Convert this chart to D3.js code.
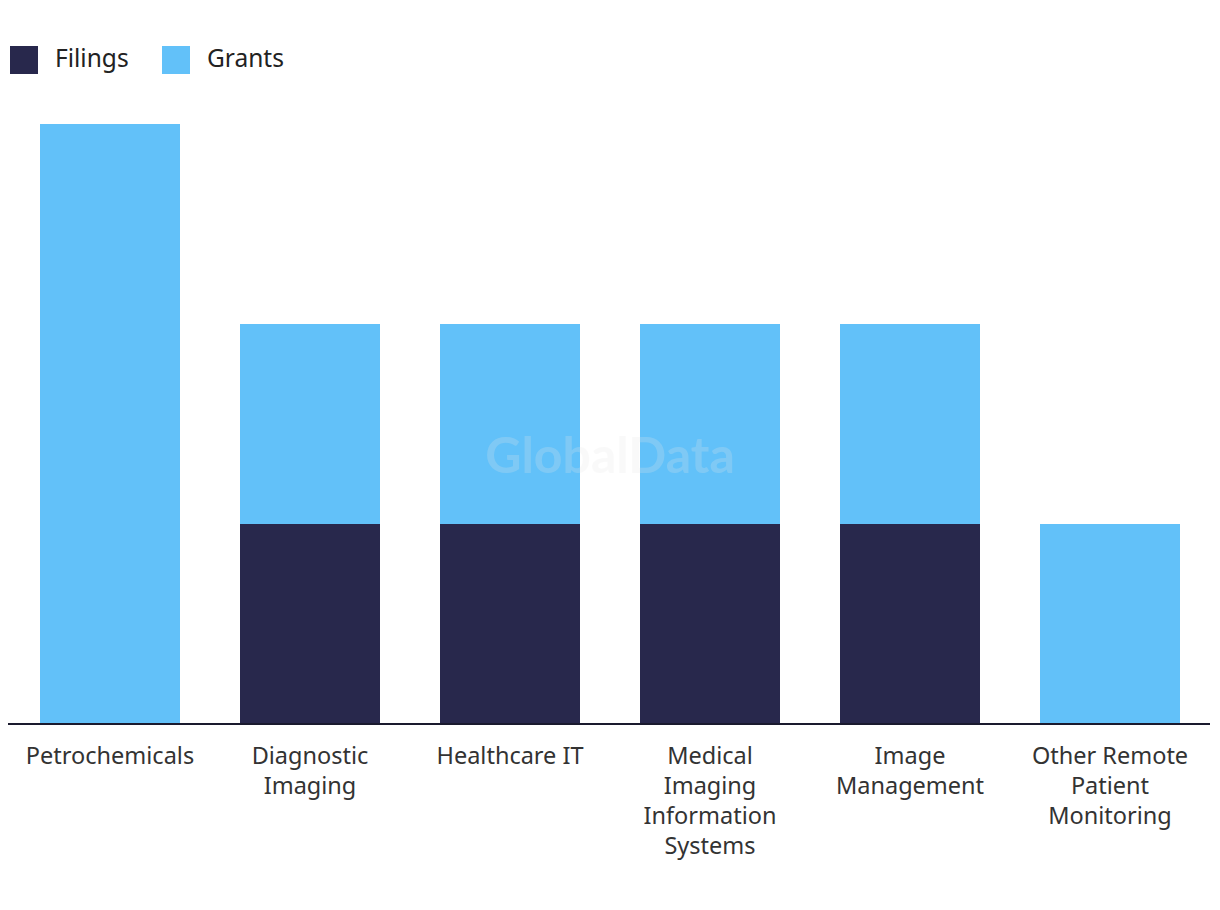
<!DOCTYPE html>
<html><head><meta charset="utf-8">
<script src="https://cdn.jsdelivr.net/npm/d3@7"></script>
<style>body{margin:0;background:#fff;font-family:"Noto Sans",sans-serif;}</style>
</head><body>
<svg id="c" width="1220" height="910"></svg>
<script>
const categories = [["Petrochemicals"],["Diagnostic","Imaging"],["Healthcare IT"],["Medical","Imaging","Information","Systems"],["Image","Management"],["Other Remote","Patient","Monitoring"]];
const filings = [0,1,1,1,1,0];
const grants = [3,1,1,1,1,1];
const seriesNames = ["Filings","Grants"];
const colors = ["#28284c","#62c1f9"];

const svg = d3.select("#c");
const keys = categories.map(c=>c.join(" "));
const x = d3.scaleBand().domain(keys).range([10,1210]).paddingInner(0.3).paddingOuter(0.15);
const y = d3.scaleLinear().domain([0,3]).range([724,124]);

const data = keys.map((k,i)=>({key:k, Filings:filings[i], Grants:grants[i]}));
const stack = d3.stack().keys(seriesNames)(data);

svg.append("g").selectAll("g").data(stack).join("g")
  .attr("fill",(d,i)=>colors[i])
  .selectAll("rect").data(d=>d).join("rect")
  .attr("x",d=>x(d.data.key)).attr("width",x.bandwidth())
  .attr("y",d=>y(d[1])).attr("height",d=>y(d[0])-y(d[1]));

// watermark
svg.append("text").attr("x",610).attr("y",473).attr("text-anchor","middle")
  .attr("font-family","Lato, 'Noto Sans', sans-serif").attr("font-weight","bold").attr("font-size",50)
  .attr("fill","#e8e8e8").attr("opacity",0.22).text("GlobalData");

// axis
const ax = svg.append("g").attr("transform","translate(0,724)").call(d3.axisBottom(x).tickSize(0).tickFormat(""));
ax.select(".domain").attr("d","M8,0H1210").attr("stroke","#1a1a2e").attr("stroke-width",2);
ax.selectAll(".tick").each(function(d,i){
  const t = d3.select(this).select("text").text(null)
    .attr("y",0).attr("dy",null)
    .attr("font-family","'Noto Sans', sans-serif").attr("font-size",23.5).attr("fill","#333");
  categories[i].forEach((line,j)=>{
    t.append("tspan").attr("x",0).attr("y",40+j*30).text(line);
  });
});

// legend
const lg = svg.append("g");
const lx = [10,162];
seriesNames.forEach((s,i)=>{
  lg.append("rect").attr("x",lx[i]).attr("y",46).attr("width",28).attr("height",28).attr("fill",colors[i]);
  lg.append("text").attr("x",lx[i]+45).attr("y",67).attr("font-size",24.5).attr("fill","#222")
    .attr("font-family","'Noto Sans', sans-serif").text(s);
});
</script>
</body></html>
